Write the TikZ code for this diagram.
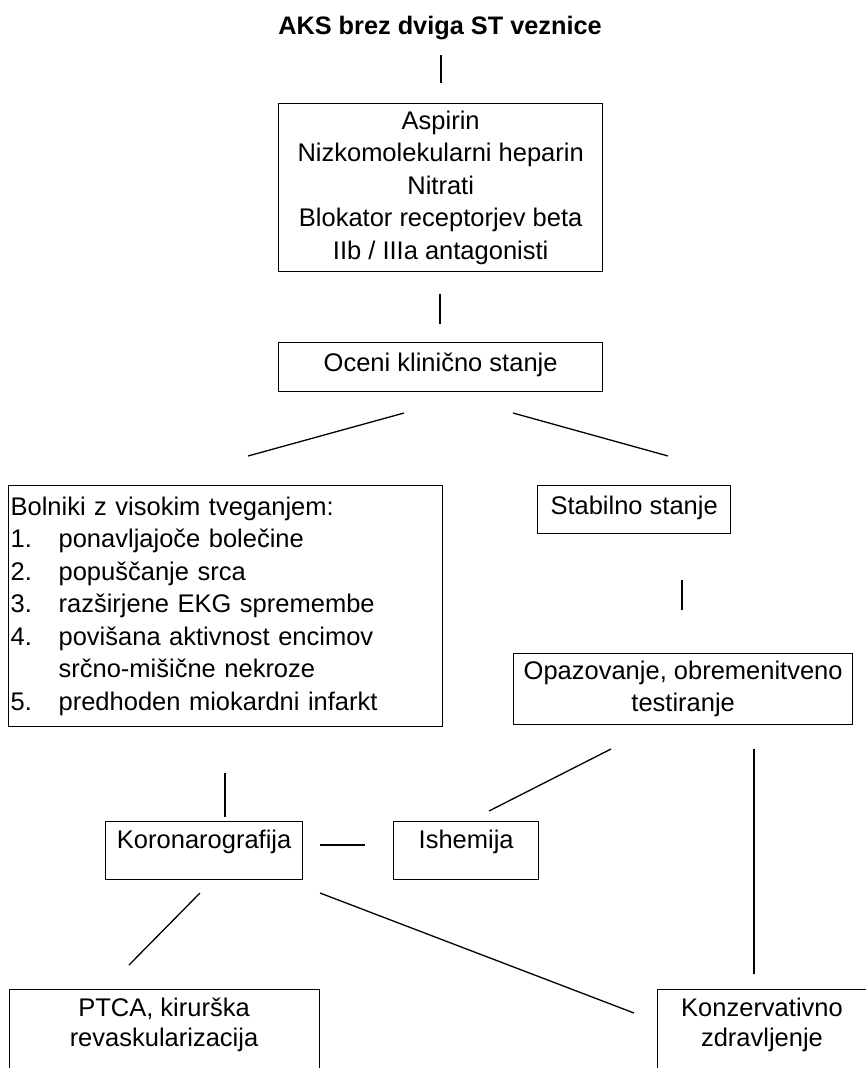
\documentclass[tikz,border=0pt]{standalone}
\usepackage{fontspec}
\setmainfont{Liberation Sans}
\begin{document}
\begin{tikzpicture}[x=1pt,y=-1pt,
  box/.style={draw,line width=1.3pt,rectangle,inner sep=0pt,align=center,anchor=north west,font=\fontsize{25.5}{32.5}\selectfont},
  conn/.style={line width=1.3pt},
  txt/.style={inner sep=0pt,font=\fontsize{25.5}{30}\selectfont,align=center}]
\clip (0,0) rectangle (866,1068);
\fill[white] (0,0) rectangle (866,1068);
% title
\node[txt,font=\fontsize{25.3}{30}\selectfont\bfseries] (title) at (440,28) {AKS brez dviga ST veznice};
% boxes
\node[box,minimum width=324pt,minimum height=168pt] (b1) at (278,103) {Aspirin\\Nizkomolekularni heparin\\Nitrati\\Blokator receptorjev beta\\IIb / IIIa antagonisti};
\node[box,minimum width=324pt,minimum height=49pt] (oc) at (278,342) {\raisebox{9pt}{Oceni klinično stanje}};
\node[box,minimum width=434pt,minimum height=241pt,align=left,text width=430pt,inner xsep=2pt] (hr) at (8,485) {\raisebox{16pt}{\begin{tabular}{@{}l@{}}Bolniki z visokim tveganjem:\\
\makebox[48pt][l]{1.}ponavljajoče bolečine\\
\makebox[48pt][l]{2.}popuščanje srca\\
\makebox[48pt][l]{3.}razširjene EKG spremembe\\
\makebox[48pt][l]{4.}povišana aktivnost encimov\\
\makebox[48pt][l]{}srčno-mišične nekroze\\
\makebox[48pt][l]{5.}predhoden miokardni infarkt\end{tabular}}};
\node[box,minimum width=193pt,minimum height=48pt] (st) at (537,485) {\raisebox{9pt}{Stabilno stanje}};
\node[box,minimum width=339pt,minimum height=71pt] (op) at (513,653) {\raisebox{3pt}{\begin{tabular}{@{}c@{}}Opazovanje, obremenitveno\\testiranje\end{tabular}}};
\node[box,minimum width=197pt,minimum height=58pt] (ko) at (105,821) {\raisebox{23pt}{Koronarografija}};
\node[box,minimum width=145pt,minimum height=58pt] (is) at (393,821) {\raisebox{23pt}{Ishemija}};
\node[box,minimum width=310pt,minimum height=100pt] (pt) at (9,989) {};
\node[txt] (ptt) at (164,1025) {PTCA, kirurška\\revaskularizacija};
\node[box,minimum width=212pt,minimum height=100pt] (kz) at (657,989) {};
\node[txt] (kzt) at (762,1025) {Konzervativno\\zdravljenje};
% connector endpoints
\coordinate (c1a) at (441,55);  \coordinate (c1b) at (441,83);
\coordinate (c2a) at (440,294); \coordinate (c2b) at (440,324);
\coordinate (c3a) at (404,413); \coordinate (c3b) at (248,456);
\coordinate (c4a) at (513,413); \coordinate (c4b) at (668,456);
\coordinate (c5a) at (682,580); \coordinate (c5b) at (682,610);
\coordinate (c6a) at (225,773); \coordinate (c6b) at (225,817);
\coordinate (c7a) at (611,749); \coordinate (c7b) at (489,811);
\coordinate (c8a) at (754,749); \coordinate (c8b) at (754,974);
\coordinate (c9a) at (320,845); \coordinate (c9b) at (365,845);
\coordinate (c10a) at (200,893); \coordinate (c10b) at (129,965);
\coordinate (c11a) at (320,893); \coordinate (c11b) at (634,1013);
\draw[conn] (c1a) -- (c1b);
\draw[conn] (c2a) -- (c2b);
\draw[conn] (c3a) -- (c3b);
\draw[conn] (c4a) -- (c4b);
\draw[conn] (c5a) -- (c5b);
\draw[conn] (c6a) -- (c6b);
\draw[conn] (c7a) -- (c7b);
\draw[conn] (c8a) -- (c8b);
\draw[conn] (c9a) -- (c9b);
\draw[conn] (c10a) -- (c10b);
\draw[conn] (c11a) -- (c11b);
\end{tikzpicture}
\end{document}
